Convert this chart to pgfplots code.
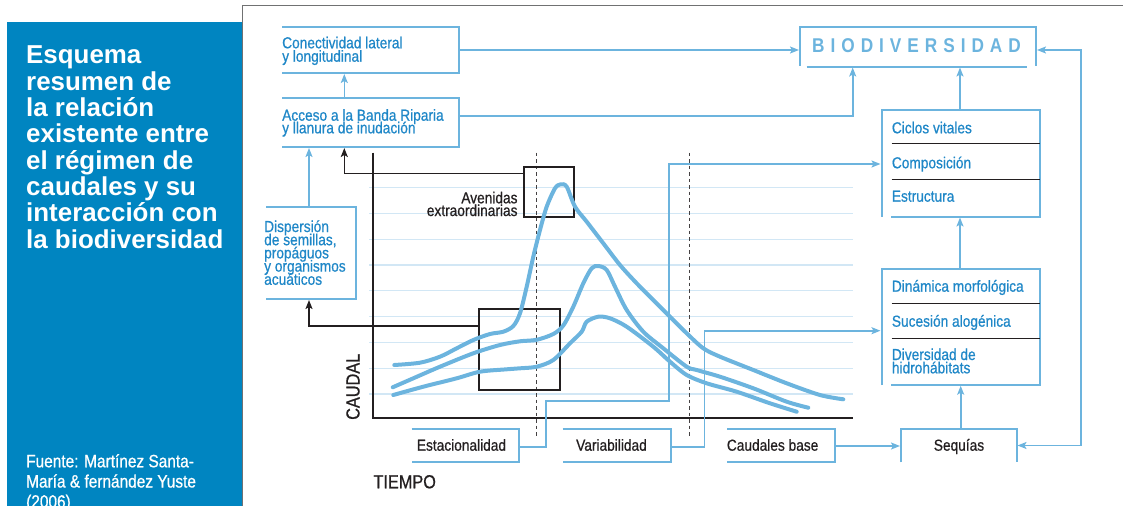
\documentclass[border=0pt]{standalone}
\usepackage{pgfplots}
\pgfplotsset{compat=1.18}
\usetikzlibrary{arrows.meta}
\usepackage{fontspec}
\setmainfont{Liberation Sans}
\newfontfamily\cond{Liberation Sans}[FakeStretch=0.86,FakeBold=0.7]
\newfontfamily\spaced{Liberation Sans}[FakeStretch=0.865,LetterSpace=30]
\definecolor{panel}{HTML}{0085C1}
\definecolor{lblue}{HTML}{6CB4DE}
\definecolor{tblue}{HTML}{1F87C7}
\definecolor{gridc}{HTML}{D2E7F5}
\definecolor{dark}{HTML}{231F20}
\definecolor{frame}{HTML}{707172}
\begin{document}
\begin{tikzpicture}[
  bx/.style={lblue, line width=1.7bp},
  ar/.style={lblue, line width=1.6bp, -{Stealth[length=9bp,width=7bp,inset=2bp]}},
  kar/.style={dark, line width=1.6bp, -{Stealth[length=9bp,width=7bp,inset=2bp]}},
  tb/.style={font=\cond\fontsize{16}{16}\selectfont, text=tblue, anchor=base west, inner sep=0pt},
  td/.style={font=\cond\fontsize{16}{16}\selectfont, text=dark, anchor=base west, inner sep=0pt},
  tw/.style={font=\bfseries\fontsize{26}{26}\selectfont, text=white, anchor=base west, inner sep=0pt},
  tf/.style={font=\cond\fontsize{18}{18}\selectfont, text=white, anchor=base west, inner sep=0pt},
]
\begin{axis}[at={(0,0)}, anchor=south west, width=1123bp, height=506bp, scale only axis,
  xmin=0, xmax=1123, ymin=0, ymax=506, y dir=reverse, hide axis, clip=true]
% left panel and frame
\fill[panel] (7,22) rectangle (241.5,510);
\draw[frame, line width=1.2bp] (242.5,510) -- (242.5,5.5) -- (1123,5.5);
\node[tw] at (26,64) {Esquema};
\node[tw] at (26,90.3) {resumen de};
\node[tw] at (26,116.6) {la relación};
\node[tw] at (26,142.9) {existente entre};
\node[tw] at (26,169.2) {el régimen de};
\node[tw] at (26,195.5) {caudales y su};
\node[tw] at (26,221.8) {interacción con};
\node[tw] at (26,248.1) {la biodiversidad};
\node[tf] at (26,467.3) {Fuente: Martínez Santa-};
\node[tf] at (26,487.5) {María \& fernández Yuste};
\node[tf] at (26,507.7) {(2006)};
% grid lines
\foreach \yy in {187.7,213.3,239.3,265,290.7,316.7,342.3,368.3,394}{
  \edef\tmp{\noexpand\draw[gridc, line width=1.3bp] (369,\yy) -- (853.3,\yy);}\tmp
}
% dashed lines
\draw[dark!85, line width=1bp, dash pattern=on 3.5bp off 3bp] (536.7,152.7) -- (536.7,437);
\draw[dark!85, line width=1bp, dash pattern=on 3.5bp off 3bp] (689,152.7) -- (689,437);
% black rectangles
\draw[dark, line width=1.8bp] (524,166.7) rectangle (574.3,216.7);
\draw[dark, line width=1.8bp] (479,309.3) rectangle (560,390);
% curves
\addplot[lblue, line width=4bp, smooth, tension=0.5, line cap=round] coordinates {
 (394.3,365) (420,362.7) (440,356.7) (456.7,348.3) (473.3,340) (490,334) (503.3,331.7)
 (513.3,326) (520,313.3) (526.7,286.7) (533.3,256.7) (540,230) (546.7,206.7) (555,188.3)
 (560.7,184.3) (566.7,186.7) (575,206.7) (586.7,221.7) (603.3,243.3) (620,265) (636.7,283.3)
 (653.3,300) (670,316.7) (686.7,333.3) (703.3,348.3) (720,356.7) (753.3,370) (786.7,383.3)
 (820,395) (843.3,399.3)};
\addplot[lblue, line width=4bp, smooth, tension=0.5, line cap=round] coordinates {
 (392.7,387.3) (413.3,378.3) (440,366.7) (473.3,353.3) (500,345) (520,341.3) (536.7,339.8)
 (553.3,334) (563.3,325.5) (573.3,306.7) (583.3,283.3) (591.7,268.3) (598.3,266) (606.7,270)
 (615,286.7) (626.7,310) (643.3,331.7) (663.3,348.3) (686.7,366.7) (696.7,370) (720,376.7)
 (753.3,388.3) (786.7,401.7) (808.3,407.7)};
\addplot[lblue, line width=4bp, smooth, tension=0.5, line cap=round] coordinates {
 (393.3,395) (423.3,386.7) (456.7,378.3) (480,371.7) (506.7,369.3) (520,368.3) (536.7,366.7)
 (553.3,360) (570,343.3) (581.7,331.7) (586.7,321.7) (598.3,316.7) (610,318.3) (626.7,326.7)
 (653.3,346.7) (670,361.7) (686.7,375) (706.7,383.3) (736.7,391.7) (770,403.3) (796.7,411.7)};
% axes
\draw[dark, line width=1.8bp] (373.3,152.7) -- (373.3,418.3) -- (853.3,418.3);
\node[font=\cond\fontsize{19}{19}\selectfont, text=dark, anchor=base west, inner sep=0pt, rotate=90] at (359.5,420) {CAUDAL};
\node[font=\cond\fontsize{19}{19}\selectfont, text=dark, anchor=base west, inner sep=0pt] at (373.3,488.3) {TIEMPO};
\node[td, anchor=base east] at (517.7,203.3) {Avenidas};
\node[td, anchor=base east] at (517.7,216) {extraordinarias};
% top-left boxes
\draw[bx] (282,26.7) -- (459,26.7) -- (459,73.3) -- (282,73.3);
\node[tb] at (282,48.3) {Conectividad lateral};
\node[tb] at (282,61.7) {y longitudinal};
\draw[bx] (282,98.3) -- (459,98.3) -- (459,147.3) -- (282,147.3);
\node[tb] at (282,120.7) {Acceso a la Banda Riparia};
\node[tb] at (282,133.3) {y llanura de inudación};
\draw[bx] (266,206.7) -- (356,206.7) -- (356,299.3) -- (266,299.3);
\node[tb] at (264,232) {Dispersión};
\node[tb] at (264,245.2) {de semillas,};
\node[tb] at (264,258.4) {propáguos};
\node[tb] at (264,271.6) {y organismos};
\node[tb] at (264,284.8) {acuáticos};
% biodiversidad
\draw[bx] (800,66) -- (800,26.7) -- (1036,26.7) -- (1036,66);
\draw[bx] (806.7,66.7) -- (1027,66.7);
\node[font=\spaced\bfseries\fontsize{20}{20}\selectfont, text=lblue, anchor=base west, inner sep=0pt] at (812,52.3) {BIODIVERSIDAD};
% right boxes
\draw[bx] (881.7,216.7) -- (881.7,110) -- (1040,110) -- (1040,216.7) -- (891,216.7);
\draw[dark, line width=1bp] (891.7,143.3) -- (1040,143.3);
\draw[dark, line width=1bp] (891.7,179.3) -- (1040,179.3);
\node[tb] at (891.7,133.3) {Ciclos vitales};
\node[tb] at (891.7,168.3) {Composición};
\node[tb] at (891.7,201.7) {Estructura};
\draw[bx] (881.7,385) -- (881.7,269.3) -- (1040,269.3) -- (1040,385) -- (891,385);
\draw[dark, line width=1bp] (891.7,303.3) -- (1040,303.3);
\draw[dark, line width=1bp] (891.7,338.7) -- (1040,338.7);
\node[tb] at (891.7,291.7) {Dinámica morfológica};
\node[tb] at (891.7,326.7) {Sucesión alogénica};
\node[tb] at (891.7,360) {Diversidad de};
\node[tb] at (891.7,373.3) {hidrohábitats};
% bottom boxes
\draw[bx] (411.7,429) -- (519.3,429) -- (519.3,462.3) -- (411.7,462.3);
\node[td] at (416.7,450.7) {Estacionalidad};
\draw[bx] (562.7,429) -- (670.7,429) -- (670.7,462.3) -- (562.7,462.3);
\node[td] at (576,450.7) {Variabilidad};
\draw[bx] (727.3,429) -- (835,429) -- (835,462.3) -- (727.3,462.3);
\node[td] at (726.7,450.7) {Caudales base};
\draw[bx] (900.7,462.3) -- (900.7,429) -- (1016.7,429) -- (1016.7,462.3);
\node[td, anchor=base] at (959,450.7) {Sequías};
% blue arrows
\draw[ar] (344.3,98.3) -- (344.3,74);
\draw[ar] (459,50) -- (799,50);
\draw[ar] (459,116) -- (852.7,116) -- (852.7,67.5);
\draw[ar] (960,110) -- (960,67.5);
\draw[lblue, line width=1.6bp, {Stealth[length=9bp,width=7bp,inset=2bp]}-{Stealth[length=9bp,width=7bp,inset=2bp]}] (1037,50) -- (1081,50) -- (1081,445.5) -- (1017.5,445.5);
\draw[ar] (960,269) -- (960,217.5);
\draw[ar] (960.7,429) -- (960.7,385.7);
\draw[ar] (835,446) -- (900,446);
\draw[ar] (519.3,446.7) -- (545.7,446.7) -- (545.7,401) -- (669,401) -- (669,164) -- (880.5,164);
\draw[ar] (670.7,446.7) -- (704.3,446.7) -- (704.3,330.7) -- (880.5,330.7);
\draw[ar] (309,206.7) -- (309,148);
% black arrows
\draw[kar] (524,173.3) -- (344.3,173.3) -- (344.3,148);
\draw[kar] (479,325.7) -- (309,325.7) -- (309,300);
\end{axis}
\pgfresetboundingbox
\path[use as bounding box] (0,0) rectangle (1123bp,506bp);
\end{tikzpicture}
\end{document}
